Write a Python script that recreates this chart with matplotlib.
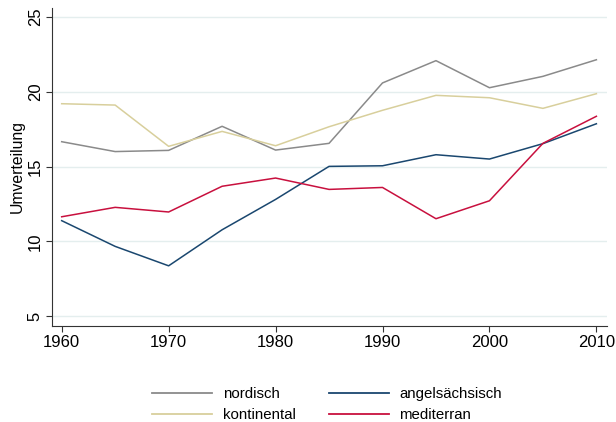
import matplotlib
matplotlib.use("Agg")
import matplotlib.pyplot as plt
from matplotlib.lines import Line2D

plt.rcParams['font.family'] = ['Liberation Sans', 'DejaVu Sans']

years = [1960, 1965, 1970, 1975, 1980, 1985, 1990, 1995, 2000, 2005, 2010]
nordisch = [16.66, 16.0, 16.08, 17.69, 16.1, 16.55, 20.59, 22.08, 20.27, 21.03, 22.14]
kontinental = [19.2, 19.11, 16.35, 17.35, 16.39, 17.66, 18.76, 19.76, 19.6, 18.89, 19.87]
angelsaechsisch = [11.38, 9.66, 8.36, 10.77, 12.8, 15.01, 15.05, 15.79, 15.5, 16.53, 17.86]
mediterran = [11.64, 12.27, 11.96, 13.68, 14.23, 13.47, 13.6, 11.51, 12.71, 16.55, 18.36]

# legend is filled column by column
labels = ['nordisch', 'kontinental', 'angelsächsisch', 'mediterran']
colors = {'nordisch': '#8a8a8a', 'kontinental': '#d8cf9c',
          'angelsächsisch': '#1a476f', 'mediterran': '#c8103e'}

fig = plt.figure(figsize=(6.16, 4.22), dpi=100)
ax = fig.add_axes([0.084, 0.228, 0.901, 0.753])

ax.plot(years, nordisch, color=colors['nordisch'], lw=1.1)
ax.plot(years, kontinental, color=colors['kontinental'], lw=1.1)
ax.plot(years, angelsaechsisch, color=colors['angelsächsisch'], lw=1.1)
ax.plot(years, mediterran, color=colors['mediterran'], lw=1.1)

ax.set_xlim(1959.07, 2010.97)
ax.set_ylim(4.35, 25.6)
ax.set_xticks(range(1960, 2011, 10))
ax.set_yticks([5, 10, 15, 20, 25])
ax.grid(axis='y', color='#e4eeee', lw=1)
ax.set_axisbelow(True)
for s in ['top', 'right']:
    ax.spines[s].set_visible(False)
for s in ['left', 'bottom']:
    ax.spines[s].set_color('#333333')
ax.tick_params(axis='both', labelsize=12, length=4.5, color='#333333', pad=2)
plt.setp(ax.get_yticklabels(), rotation=90, va='center')
ax.set_ylabel('Umverteilung', fontsize=11.3, labelpad=2)

handles = [Line2D([], [], color=colors[k], lw=1.3) for k in labels]
fig.legend(handles, labels, loc='center', bbox_to_anchor=(0.531, 0.041), ncol=2,
           frameon=False, fontsize=10.8, handlelength=4.0, handletextpad=0.7,
           columnspacing=2.2, labelspacing=0.48)

fig.savefig('out.png', dpi=100)
